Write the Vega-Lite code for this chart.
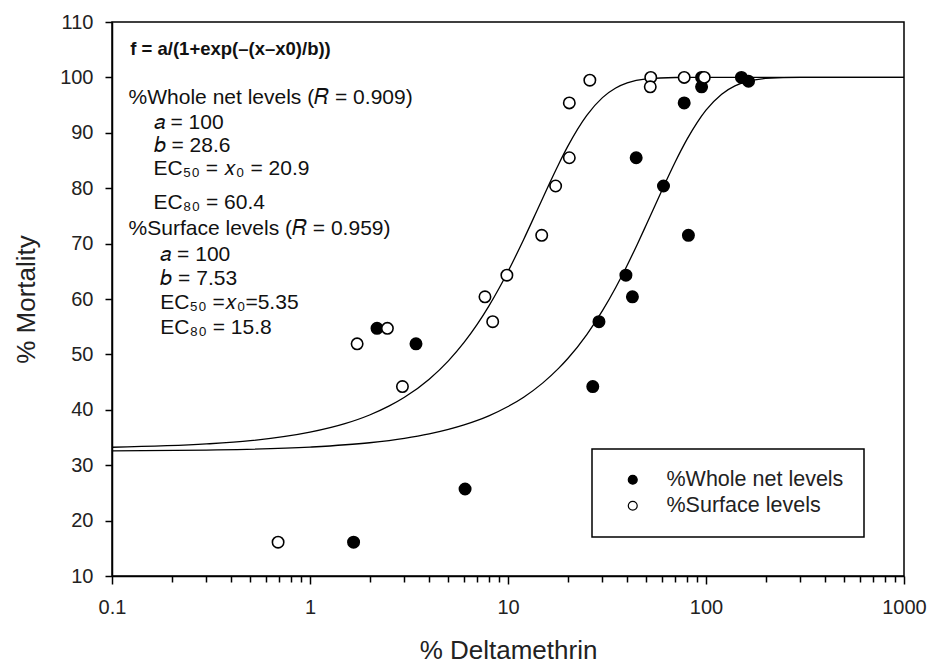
{
  "$schema": "https://vega.github.io/schema/vega-lite/v6.json",
  "width": 792,
  "height": 554,
  "autosize": "none",
  "padding": {"left": 112, "top": 22, "right": 26, "bottom": 87},
  "background": "white",
  "config": {
    "view": {"stroke": "black", "strokeWidth": 1.5},
    "font": "Liberation Sans",
    "axis": {
      "grid": false,
      "domainColor": "black",
      "domainWidth": 1.5,
      "tickColor": "black",
      "tickWidth": 1.5,
      "labelColor": "#222",
      "labelFontSize": 20,
      "labelFont": "Liberation Sans",
      "titleFont": "Liberation Sans",
      "titleFontWeight": "normal",
      "titleColor": "#222",
      "titleFontSize": 26,
      "labelFlush": false,
      "labelOverlap": false
    },
    "legend": {"strokeWidth": 1.5}
  },
  "datasets": {
    "pts": [
      {"x": 1.66, "y": 16.1, "series": "%Whole net levels"},
      {"x": 2.18, "y": 54.7, "series": "%Whole net levels"},
      {"x": 3.43, "y": 51.9, "series": "%Whole net levels"},
      {"x": 6.07, "y": 25.7, "series": "%Whole net levels"},
      {"x": 26.8, "y": 44.2, "series": "%Whole net levels"},
      {"x": 28.8, "y": 55.9, "series": "%Whole net levels"},
      {"x": 39.4, "y": 64.3, "series": "%Whole net levels"},
      {"x": 42.5, "y": 60.4, "series": "%Whole net levels"},
      {"x": 44.4, "y": 85.5, "series": "%Whole net levels"},
      {"x": 61, "y": 80.4, "series": "%Whole net levels"},
      {"x": 77.6, "y": 95.4, "series": "%Whole net levels"},
      {"x": 81.5, "y": 71.5, "series": "%Whole net levels"},
      {"x": 95, "y": 100, "series": "%Whole net levels"},
      {"x": 95, "y": 98.3, "series": "%Whole net levels"},
      {"x": 151, "y": 100, "series": "%Whole net levels"},
      {"x": 164, "y": 99.3, "series": "%Whole net levels"},
      {"x": 0.69, "y": 16.1, "series": "%Surface levels"},
      {"x": 1.73, "y": 51.9, "series": "%Surface levels"},
      {"x": 2.46, "y": 54.7, "series": "%Surface levels"},
      {"x": 2.93, "y": 44.2, "series": "%Surface levels"},
      {"x": 7.65, "y": 60.4, "series": "%Surface levels"},
      {"x": 8.37, "y": 55.9, "series": "%Surface levels"},
      {"x": 9.87, "y": 64.3, "series": "%Surface levels"},
      {"x": 14.8, "y": 71.5, "series": "%Surface levels"},
      {"x": 17.4, "y": 80.4, "series": "%Surface levels"},
      {"x": 20.4, "y": 85.5, "series": "%Surface levels"},
      {"x": 20.4, "y": 95.4, "series": "%Surface levels"},
      {"x": 25.9, "y": 99.5, "series": "%Surface levels"},
      {"x": 52.6, "y": 100, "series": "%Surface levels"},
      {"x": 52.3, "y": 98.3, "series": "%Surface levels"},
      {"x": 77.6, "y": 100, "series": "%Surface levels"},
      {"x": 98, "y": 100, "series": "%Surface levels"}
    ],
    "curves": [
      {"x": 0.1, "y": 32.58, "curve": "whole"},
      {"x": 0.3, "y": 32.73, "curve": "whole"},
      {"x": 1, "y": 33.27, "curve": "whole"},
      {"x": 2, "y": 34.05, "curve": "whole"},
      {"x": 3, "y": 34.84, "curve": "whole"},
      {"x": 4, "y": 35.64, "curve": "whole"},
      {"x": 5, "y": 36.45, "curve": "whole"},
      {"x": 6, "y": 37.26, "curve": "whole"},
      {"x": 7, "y": 38.08, "curve": "whole"},
      {"x": 8, "y": 38.91, "curve": "whole"},
      {"x": 10, "y": 40.59, "curve": "whole"},
      {"x": 12, "y": 42.28, "curve": "whole"},
      {"x": 15, "y": 44.86, "curve": "whole"},
      {"x": 18, "y": 47.47, "curve": "whole"},
      {"x": 20, "y": 49.21, "curve": "whole"},
      {"x": 25, "y": 53.58, "curve": "whole"},
      {"x": 30, "y": 57.89, "curve": "whole"},
      {"x": 35, "y": 62.08, "curve": "whole"},
      {"x": 40, "y": 66.10, "curve": "whole"},
      {"x": 45, "y": 69.90, "curve": "whole"},
      {"x": 50, "y": 73.45, "curve": "whole"},
      {"x": 60, "y": 79.69, "curve": "whole"},
      {"x": 70, "y": 84.77, "curve": "whole"},
      {"x": 80, "y": 88.76, "curve": "whole"},
      {"x": 90, "y": 91.80, "curve": "whole"},
      {"x": 100, "y": 94.08, "curve": "whole"},
      {"x": 120, "y": 96.97, "curve": "whole"},
      {"x": 140, "y": 98.47, "curve": "whole"},
      {"x": 160, "y": 99.23, "curve": "whole"},
      {"x": 200, "y": 99.81, "curve": "whole"},
      {"x": 300, "y": 100, "curve": "whole"},
      {"x": 1000, "y": 100, "curve": "whole"},
      {"x": 0.1, "y": 33.24, "curve": "surface"},
      {"x": 0.3, "y": 33.84, "curve": "surface"},
      {"x": 0.5, "y": 34.43, "curve": "surface"},
      {"x": 1, "y": 35.95, "curve": "surface"},
      {"x": 1.5, "y": 37.49, "curve": "surface"},
      {"x": 2, "y": 39.06, "curve": "surface"},
      {"x": 2.5, "y": 40.65, "curve": "surface"},
      {"x": 3, "y": 42.26, "curve": "surface"},
      {"x": 4, "y": 45.53, "curve": "surface"},
      {"x": 5, "y": 48.84, "curve": "surface"},
      {"x": 6, "y": 52.16, "curve": "surface"},
      {"x": 7, "y": 55.45, "curve": "surface"},
      {"x": 8, "y": 58.71, "curve": "surface"},
      {"x": 9, "y": 61.89, "curve": "surface"},
      {"x": 10, "y": 64.97, "curve": "surface"},
      {"x": 12, "y": 70.75, "curve": "surface"},
      {"x": 14, "y": 75.93, "curve": "surface"},
      {"x": 16, "y": 80.45, "curve": "surface"},
      {"x": 18, "y": 84.29, "curve": "surface"},
      {"x": 20, "y": 87.50, "curve": "surface"},
      {"x": 25, "y": 93.15, "curve": "surface"},
      {"x": 30, "y": 96.35, "curve": "surface"},
      {"x": 35, "y": 98.09, "curve": "surface"},
      {"x": 40, "y": 99.01, "curve": "surface"},
      {"x": 50, "y": 99.73, "curve": "surface"},
      {"x": 70, "y": 99.98, "curve": "surface"},
      {"x": 100, "y": 100, "curve": "surface"},
      {"x": 1000, "y": 100, "curve": "surface"}
    ],
    "notes": [
      {"x": 0.1213, "y": 96.2, "label": "%Whole net levels (𝑅 = 0.909)"},
      {"x": 0.1622, "y": 91.8, "label": "𝑎 = 100"},
      {"x": 0.1622, "y": 87.7, "label": "𝑏 = 28.6"},
      {"x": 0.1622, "y": 83.4, "label": "EC₅₀ = 𝑥₀ = 20.9"},
      {"x": 0.1622, "y": 77.4, "label": "EC₈₀ = 60.4"},
      {"x": 0.1213, "y": 72.6, "label": "%Surface levels (𝑅 = 0.959)"},
      {"x": 0.1753, "y": 68.0, "label": "𝑎 = 100"},
      {"x": 0.1753, "y": 63.6, "label": "𝑏 = 7.53"},
      {"x": 0.1753, "y": 59.25, "label": "EC₅₀ =𝑥₀=5.35"},
      {"x": 0.1753, "y": 54.7, "label": "EC₈₀ = 15.8"}
    ],
    "formula": [
      {"x": 0.1237, "y": 105.2, "label": "f = a/(1+exp(–(x–x0)/b))"}
    ]
  },
  "layer": [
    {
      "data": {"name": "curves"},
      "mark": {"type": "line", "color": "black", "strokeWidth": 1.3, "interpolate": "monotone"},
      "encoding": {
        "x": {"field": "x", "type": "quantitative", "scale": {"type": "log", "domain": [0.1, 1000], "nice": false},
          "axis": {
            "title": "% Deltamethrin",
            "values": [0.1,0.2,0.3,0.4,0.5,0.6,0.7,0.8,0.9,1,2,3,4,5,6,7,8,9,10,20,30,40,50,60,70,80,90,100,200,300,400,500,600,700,800,900,1000],
            "format": "~g",
            "labelExpr": "(datum.value==0.1||datum.value==1||datum.value==10||datum.value==100||datum.value==1000) ? datum.label : ''",
            "tickSize": {"condition": {"test": "datum.value==0.1||datum.value==1||datum.value==10||datum.value==100||datum.value==1000", "value": 8}, "value": 6},
            "labelPadding": 13,
            "titlePadding": 20
          }},
        "y": {"field": "y", "type": "quantitative", "scale": {"domain": [10, 110], "nice": false},
          "axis": {
            "title": "% Mortality",
            "values": [10,20,30,40,50,60,70,80,90,100,110],
            "tickSize": 7,
            "labelPadding": 12,
            "titlePadding": 20
          }},
        "detail": {"field": "curve", "type": "nominal"}
      }
    },
    {
      "data": {"name": "pts"},
      "mark": {"type": "point", "shape": "circle", "filled": true, "size": 130, "stroke": "black", "strokeWidth": 1.6, "opacity": 1},
      "encoding": {
        "x": {"field": "x", "type": "quantitative", "scale": {"type": "log", "domain": [0.1, 1000], "nice": false}},
        "y": {"field": "y", "type": "quantitative", "scale": {"domain": [10, 110], "nice": false}},
        "fill": {
          "field": "series", "type": "nominal",
          "scale": {"domain": ["%Whole net levels", "%Surface levels"], "range": ["black", "white"]},
          "legend": {
            "title": null,
            "orient": "none",
            "legendX": 480,
            "legendY": 427,
            "strokeColor": "black",
            "padding": 20,
            "rowPadding": 3,
            "symbolType": "circle",
            "symbolSize": 80,
            "symbolStrokeColor": "black",
            "symbolStrokeWidth": 1.2,
            "symbolOffset": 10,
            "labelOffset": 23,
            "labelLimit": 400,
            "labelFont": "Liberation Sans",
            "labelFontSize": 21.5,
            "labelColor": "#222"
          }
        }
      }
    },
    {
      "data": {"name": "notes"},
      "mark": {"type": "text", "align": "left", "baseline": "middle", "font": "Liberation Sans", "fontSize": 21, "color": "#111"},
      "encoding": {
        "x": {"field": "x", "type": "quantitative", "scale": {"type": "log", "domain": [0.1, 1000], "nice": false}},
        "y": {"field": "y", "type": "quantitative", "scale": {"domain": [10, 110], "nice": false}},
        "text": {"field": "label"}
      }
    },
    {
      "data": {"name": "formula"},
      "mark": {"type": "text", "align": "left", "baseline": "middle", "font": "Liberation Sans", "fontSize": 18.5, "fontWeight": "bold", "color": "#111"},
      "encoding": {
        "x": {"field": "x", "type": "quantitative", "scale": {"type": "log", "domain": [0.1, 1000], "nice": false}},
        "y": {"field": "y", "type": "quantitative", "scale": {"domain": [10, 110], "nice": false}},
        "text": {"field": "label"}
      }
    }
  ]
}
